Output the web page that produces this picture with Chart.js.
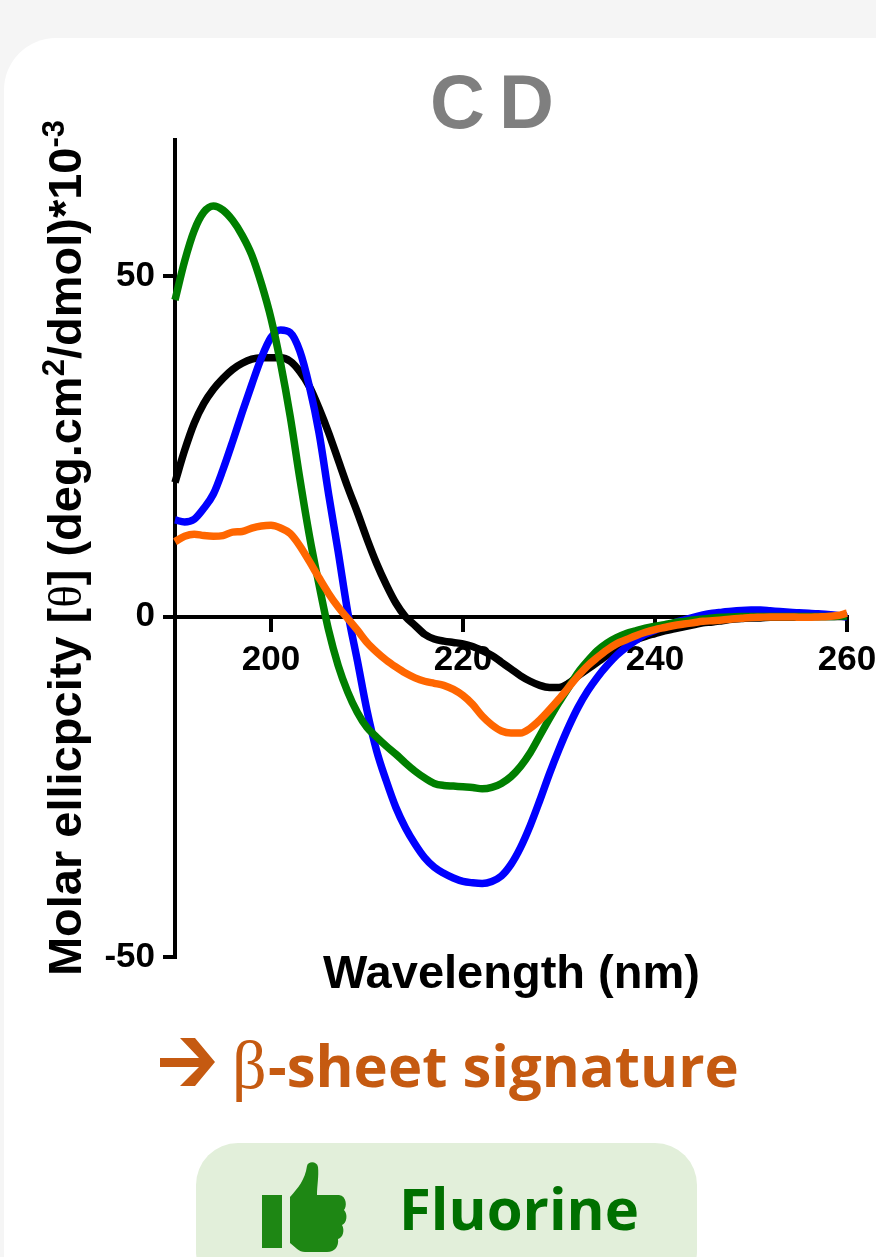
<!DOCTYPE html>
<html>
<head>
<meta charset="utf-8">
<style>
  html, body { margin: 0; padding: 0; background: #f5f5f5; }
  body { width: 876px; height: 1257px; position: relative; overflow: hidden; font-family: "Liberation Sans", Arial, sans-serif; }
  .card { position: absolute; left: 4px; top: 38px; width: 960px; height: 1300px; background: #fff; border-radius: 52px; }
  canvas { position: absolute; left: 0; top: 0; }
  .t { position: absolute; white-space: nowrap; font-weight: bold; }
  #title { left: 430px; top: 60px; font-size: 76px; line-height: 84px; color: #7f7f7f; letter-spacing: 14px; }
  #ylabel { left: 65px; top: 548px; font-size: 47px; line-height: 50px; color: #000; transform: translate(-50%, -50%) rotate(-90deg); }
  #ylabel sup { font-size: 31px; line-height: 0; }
  #ylabel .theta { font-family: "Liberation Serif", serif; font-weight: normal; }
  #xlabel { left: 323px; top: 946px; font-size: 47px; line-height: 52px; color: #000; }
  #arrow { position: absolute; left: 0; top: 0; }
  #beta { left: 232px; top: 1027px; font-family: "Liberation Serif", serif; font-weight: normal; font-size: 68px; line-height: 76px; color: #c55a11; }
  #note { left: 268px; top: 1026px; font-family: "Open Sans", sans-serif; font-size: 58px; line-height: 78px; color: #c55a11; }
  .pill { position: absolute; left: 196px; top: 1143px; width: 501px; height: 150px; background: #e2efda; border-radius: 42px; }
  #thumb { position: absolute; left: 255px; top: 1160px; }
  #fluorine { left: 399px; top: 1171px; font-family: "Open Sans", sans-serif; font-size: 58px; line-height: 74px; color: #007000; }
</style>
</head>
<body>
<div class="card"></div>
<div class="pill"></div>
<canvas id="cdChart" width="876" height="1257"></canvas>
<div class="t" id="title">CD</div>
<div class="t" id="ylabel">Molar ellicpcity [<span class="theta">θ</span>] (deg.cm<sup>2</sup>/dmol)*10<sup>-3</sup></div>
<div class="t" id="xlabel">Wavelength (nm)</div>
<svg id="arrow" width="230" height="1100" viewBox="0 0 230 1100">
  <path d="M160 1058 L199 1058 L180 1038 L195 1038 L215 1062 L195 1086 L180 1086 L199 1067 L160 1067 Z" fill="#c55a11"/>
</svg>
<div class="t" id="beta">β</div>
<div class="t" id="note">-sheet signature</div>
<svg id="thumb" width="100" height="96" viewBox="0 0 100 96">
  <rect x="7" y="35" width="20" height="53" fill="#1e8714"/>
  <path d="M35 37 C43 28 50 20 52 6 C53 1 62 1 63 7 C64 16 62 26 62 35 L84 35 C92 36 92 47 89 50 C93 54 92 63 87 65 C90 70 88 78 83 79 C84 86 80 92 72 92 L50 92 C44 92 40 87 35 83 Z" fill="#1e8714"/>
</svg>
<div class="t" id="fluorine">Fluorine</div>
<script src="https://cdn.jsdelivr.net/npm/chart.js@4/dist/chart.umd.min.js"></script>
<script>
// wavelength, one reading per nm from 190 to 260
const wavelengths = [190,191,192,193,194,195,196,197,198,199,200,201,202,203,204,205,206,207,208,209,
  210,211,212,213,214,215,216,217,218,219,220,221,222,223,224,225,226,227,228,229,
  230,231,232,233,234,235,236,237,238,239,240,241,242,243,244,245,246,247,248,249,
  250,251,252,253,254,255,256,257,258,259,260];

const blackValues = [19.7,24.4,28.4,31.3,33.4,35,36.3,37.2,37.8,38,38,38,37.5,36,33.8,30.6,27,23,19,15.3,
  11.4,7.8,4.7,2,0,-1.3,-2.6,-3.3,-3.6,-3.8,-4,-4.4,-5,-5.7,-6.7,-7.7,-8.7,-9.5,-10.1,-10.4,
  -10.4,-9.8,-8.7,-7.7,-6.7,-5.7,-4.8,-4,-3.4,-2.9,-2.5,-2.1,-1.8,-1.5,-1.2,-0.9,-0.8,-0.6,-0.4,-0.3,
  -0.2,-0.2,-0.1,-0.1,-0.1,-0.1,0,0,0,0,0];

const blueValues = [14.2,13.9,14.3,15.9,18,21.6,25.7,30,34.1,38,41,42.1,41.7,39,33.8,27,18,9.5,0.6,-6.5,
  -13.8,-19.7,-24.1,-28,-31,-33.4,-35.4,-36.8,-37.7,-38.4,-38.9,-39.1,-39.2,-38.9,-38.1,-36.4,-33.9,-30.7,-27,-23.1,
  -19.5,-16.2,-13.3,-10.9,-8.9,-7.2,-5.7,-4.5,-3.5,-2.6,-2,-1.4,-0.9,-0.5,-0.1,0.25,0.5,0.65,0.8,0.9,
  0.95,0.95,0.85,0.75,0.65,0.55,0.5,0.4,0.3,0.15,-0.1];

const greenValues = [46.5,52.2,56.7,59.4,60.3,59.7,58.2,56,53.1,48.9,43.8,37.2,29.4,20.3,11.9,4.7,-2,-7.2,-11.1,-14.1,
  -16.3,-17.7,-19,-20.2,-21.5,-22.7,-23.7,-24.5,-24.8,-24.9,-25,-25.1,-25.3,-25.1,-24.5,-23.5,-22,-20,-17.5,-15,
  -12.6,-10.4,-8.2,-6.5,-5,-3.9,-3.1,-2.5,-2.1,-1.7,-1.4,-1.2,-0.9,-0.7,-0.5,-0.35,-0.2,-0.1,-0.05,0,
  0,0,0,0,0,0,0,0,0,0.05,0.1];

const orangeValues = [11,11.8,12.1,11.9,11.8,11.9,12.4,12.5,13,13.3,13.4,13,12.2,10.4,8.1,5.7,3.4,1.4,-0.3,-2,
  -3.8,-5.2,-6.4,-7.4,-8.3,-9,-9.5,-9.8,-10.1,-10.7,-11.6,-12.9,-14.6,-15.9,-16.8,-17.1,-17.1,-16.4,-15.2,-13.7,
  -12.1,-10.4,-8.7,-7.2,-6,-4.9,-4,-3.4,-2.8,-2.3,-1.9,-1.6,-1.3,-1.1,-0.9,-0.7,-0.6,-0.5,-0.35,-0.25,
  -0.15,-0.1,-0.05,-0.05,-0.05,-0.1,-0.1,-0.05,0,0.15,0.5];

const xTicks = [200, 220, 240, 260];
const yTicks = [-50, 0, 50];

function curve(values, color) {
  return {
    data: values.map((v, i) => ({ x: wavelengths[i], y: v })),
    borderColor: color,
    borderWidth: 7.5,
    borderJoinStyle: 'round',
    pointRadius: 0,
    cubicInterpolationMode: 'monotone',
    clip: false
  };
}

const tickFont = { family: '"Liberation Sans", Arial, sans-serif', size: 35, weight: 'bold' };

const config = {
  type: 'line',
  data: {
    // first dataset is painted last, so orange stays on top
    datasets: [
      curve(orangeValues, '#ff6600'),
      curve(greenValues, '#007f00'),
      curve(blueValues, '#0000ff'),
      curve(blackValues, '#000000')
    ]
  },
  options: {
    responsive: false,
    animation: false,
    layout: { padding: { left: 0, right: 29, top: 140, bottom: 300 } },
    plugins: { legend: { display: false }, tooltip: { enabled: false } },
    scales: {
      x: {
        type: 'linear',
        min: 190,
        max: 260,
        position: { y: 0 },
        afterBuildTicks: axis => { axis.ticks = xTicks.map(v => ({ value: v })); },
        afterFit: axis => { axis.paddingLeft = 0; axis.paddingRight = 0; },
        border: { color: '#000', width: 4 },
        grid: { drawOnChartArea: false, color: '#000', lineWidth: 4, tickLength: 13 },
        ticks: { color: '#000', font: tickFont, padding: 10, maxRotation: 0, autoSkip: false, callback: v => String(v) }
      },
      y: {
        type: 'linear',
        position: 'left',
        min: -50,
        max: 70,
        afterBuildTicks: axis => { axis.ticks = yTicks.map(v => ({ value: v })); },
        afterFit: axis => { axis.width = 175; axis.paddingTop = 0; axis.paddingBottom = 0; },
        border: { color: '#000', width: 4 },
        grid: { drawOnChartArea: false, color: '#000', lineWidth: 4, tickLength: 12 },
        ticks: { color: '#000', font: tickFont, padding: 8, autoSkip: false, callback: v => String(v) }
      }
    }
  }
};

const ctx = document.getElementById('cdChart').getContext('2d');
new Chart(ctx, config);
</script>
</body>
</html>
